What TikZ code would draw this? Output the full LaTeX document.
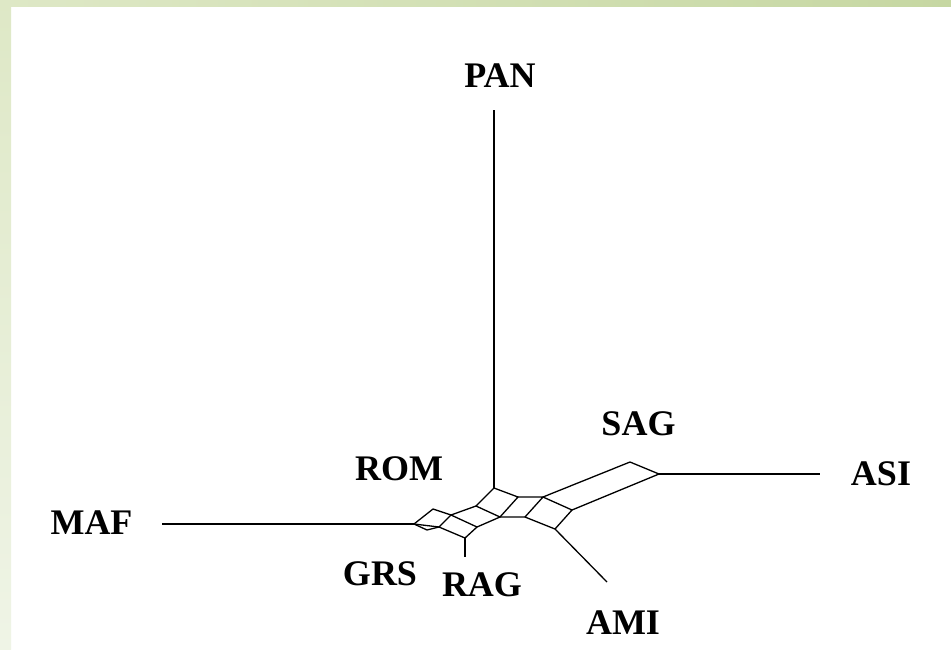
\documentclass[tikz,border=0pt]{standalone}
\usepackage{fontspec}
\setmainfont{Liberation Serif}
\definecolor{bandA}{HTML}{DEE8C6}
\definecolor{bandB}{HTML}{C6D7A2}
\definecolor{bandC}{HTML}{EFF4E6}
\tikzset{
  taxon/.style={font=\fontsize{36}{40}\selectfont\bfseries, inner sep=0pt, anchor=center},
  split/.style={draw=black, line width=1.3pt, line join=round, line cap=round},
  pendant/.style={draw=black, line width=1.3pt, line cap=butt}
}
\begin{document}
\begin{tikzpicture}[x=1pt, y=-1pt]
  % page and framing bands
  \fill[white] (0,0) rectangle (951,649);
  \useasboundingbox (0,0) rectangle (951,649);
  \shade[top color=bandA, bottom color=bandC] (0,0) rectangle (11,649);
  \shade[left color=bandA, right color=bandB] (0,0) rectangle (951,6);

  % network vertices
  \coordinate (A) at (494,488);
  \coordinate (B) at (518,497);
  \coordinate (C) at (476,506);
  \coordinate (D) at (500,517);
  \coordinate (E) at (543,497);
  \coordinate (F) at (525,517);
  \coordinate (G) at (630,462);
  \coordinate (H) at (659,474);
  \coordinate (I) at (572,510);
  \coordinate (J) at (555,529);
  \coordinate (K) at (451,515);
  \coordinate (L) at (477,527);
  \coordinate (Q) at (439,527);
  \coordinate (R) at (465,538);
  \coordinate (M) at (414,524);
  \coordinate (P1) at (433,509);
  \coordinate (P2) at (427,530);

  % free ends of the pendant edges
  \coordinate (panEnd) at (494,110);
  \coordinate (mafEnd) at (162,524);
  \coordinate (asiEnd) at (820,474);
  \coordinate (amiEnd) at (607,582);
  \coordinate (ragEnd) at (465,557);

  % taxon labels
  \node[taxon] (PAN) at (500,75.5) {PAN};
  \node[taxon] (ROM) at (399,468.5) {ROM};
  \node[taxon] (MAF) at (91.5,523) {MAF};
  \node[taxon] (GRS) at (380,573.5) {GRS};
  \node[taxon] (RAG) at (482,585) {RAG};
  \node[taxon] (SAG) at (638.5,423.5) {SAG};
  \node[taxon] (ASI) at (881,474) {ASI};
  \node[taxon] (AMI) at (623,622.5) {AMI};

  % pendant edges
  \draw[pendant] (A) -- (panEnd);
  \draw[pendant] (M) -- (mafEnd);
  \draw[pendant] (H) -- (asiEnd);
  \draw[pendant] (J) -- (amiEnd);
  \draw[pendant] (R) -- (ragEnd);

  % split boxes
  \draw[split] (A) -- (B) -- (D) -- (C) -- cycle;
  \draw[split] (B) -- (E) -- (F) -- (D);
  \draw[split] (E) -- (I) -- (J) -- (F);
  \draw[split] (E) -- (G) -- (H) -- (I);
  \draw[split] (C) -- (K) -- (L) -- (D);
  \draw[split] (K) -- (Q) -- (R) -- (L);
  \draw[split] (M) -- (P1) -- (K);
  \draw[split] (M) -- (P2) -- (Q);
  \draw[split] (M) -- (Q);
\end{tikzpicture}
\end{document}
